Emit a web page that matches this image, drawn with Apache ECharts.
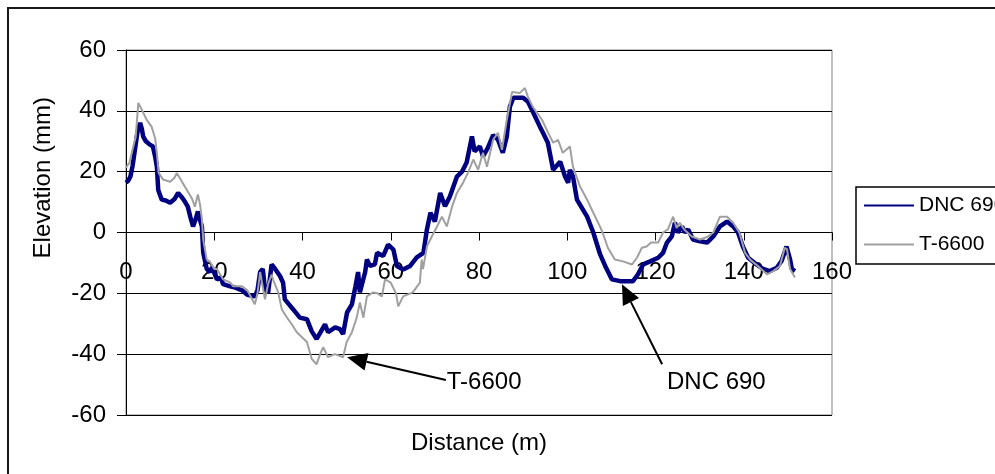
<!DOCTYPE html>
<html>
<head>
<meta charset="utf-8">
<script src="https://cdn.jsdelivr.net/npm/echarts@6/dist/echarts.min.js"></script>
<style>
  html, body { margin: 0; padding: 0; background: #fff; }
  #chart { width: 995px; height: 474px; }
</style>
</head>
<body>
<div id="chart"></div>
<script>
// Surface profile along the test section: distance (m) vs elevation (mm)
const dncDist = [0, 0.5, 1, 1.5, 2, 2.6, 3.2, 3.6, 3.9, 4.5, 5.4, 6.1, 6.6, 7, 7.3, 8.1, 9, 10, 11, 11.8,
  12.7, 13.4, 14, 14.6, 15.2, 15.7, 16.3, 16.8, 17.2, 17.5, 18.3, 19, 19.5, 20.6, 21.5, 22, 23.6, 24.5, 26.3, 27.5,
  29.2, 29.8, 30.4, 31, 31.5, 32.2, 33, 33.8, 34.9, 35.6, 36, 37.9, 39.4, 41, 42.1, 43.2, 44, 45.1, 45.8, 47.4,
  48.5, 49.2, 50.1, 51.2, 52, 52.6, 53, 54.2, 54.6, 55.3, 56.4, 56.9, 58.3, 59.4, 60.6, 61.4, 62.8, 64.4, 65.9, 67.4,
  68.2, 69, 70, 71.2, 72.3, 73.4, 75, 76.2, 77.2, 78.4, 79, 80.2, 80.9, 82, 83.2, 84.3, 85.4, 86.3, 87, 87.8,
  90, 91.1, 92.2, 93.8, 94.5, 95.6, 96.8, 98.4, 99.5, 100.2, 100.6, 101.3, 102.2, 104.5, 105.9, 107.4, 108.6, 110.1, 112, 114.9,
  116, 117.2, 118.8, 120.6, 121.7, 122.6, 123.7, 124.4, 125.1, 126, 126.7, 127.4, 128.5, 130.1, 131.7, 133.1, 134.6, 136.2, 137.6, 138.7,
  139.8, 141, 142.9, 144.4, 145.9, 147.5, 148.6, 149.7, 150.5, 150.9, 151.6];
const dncElev = [16.4, 17, 18.4, 22, 27, 33, 36, 34, 31.5, 30, 28.9, 28.3, 25, 21.6, 14, 10.8, 10.5, 9.8, 11, 13,
  11.5, 10, 8.5, 5, 2, 4, 6.9, 4, 2, -6.6, -12, -13, -11.5, -15.4, -14.8, -17, -17.7, -18, -19, -20.5,
  -21, -19, -13, -12, -18.7, -19.8, -10.5, -12, -14.3, -16.5, -22, -25.3, -28, -28.5, -32.5, -35, -33, -30.2, -32.8, -31.2,
  -31.8, -33.4, -26.3, -23.6, -17.7, -13, -19.7, -13, -8.9, -11, -10.5, -6.7, -7.7, -4, -5.6, -11, -12.2, -11, -8.2, -6.7,
  1, 6.5, 3.6, 13, 8.6, 11.8, 18.4, 20.1, 23, 31.6, 26.7, 28.3, 25, 27.8, 32, 30.5, 26.2, 31.6, 41.4, 44.3,
  44.3, 43, 39.7, 34.8, 32.8, 29.5, 20.6, 23.3, 18.4, 16.4, 20.6, 18.4, 10.8, 5.2, 0, -7, -11, -15.4, -16, -16,
  -13.8, -10.5, -9.5, -8.3, -6.7, -3.3, -1.3, 3.2, 0, 2, 0, 1, -2.3, -2.9, -3.3, -1.3, 2, 3.6, 2, 0,
  -4.6, -8.3, -10.5, -12, -12.7, -11.6, -9.3, -4.6, -8.9, -12, -12.7];

const t6600Dist = [0, 0.8, 1.6, 2.2, 2.8, 3.2, 3.6, 4.7, 5.8, 6.2, 6.6, 7, 7.4, 8.4, 10, 11, 11.5, 12.8, 13.8, 15,
  15.6, 16.3, 16.8, 17.2, 17.5, 18.3, 19, 20, 20.6, 22, 23.6, 24.3, 26.3, 27.5, 29.2, 29.8, 30.4, 31, 31.5, 32.2,
  33, 33.3, 34.5, 35.3, 36.4, 37.5, 38.7, 41, 42.1, 43.2, 44, 44.7, 45.8, 47.3, 48.5, 49.2, 50, 51.2, 52.3, 53,
  53.8, 54.6, 56, 57, 58, 58.7, 60, 61.2, 61.7, 62.8, 65, 66.6, 67, 67.3, 68.2, 69.3, 70.5, 71.6, 72.7, 73.9,
  75, 76.4, 77.5, 78.7, 79.8, 80.9, 81.8, 83.2, 84.3, 85.2, 86.3, 87.5, 89.3, 90.4, 91.1, 92.2, 94.3, 95.6, 96.8, 97.9,
  99, 100.6, 101.3, 102.9, 104.5, 105.9, 107.4, 108, 109.2, 110.8, 112.6, 114.7, 115.8, 116.9, 118, 119, 120.6, 121.7, 122.8, 124,
  124.8, 125.5, 126.5, 128.2, 130.1, 131.7, 133.1, 134.6, 136.2, 137.6, 139, 140.3, 141.5, 143.2, 145.3, 146.7, 148.2, 149.3, 149.8, 150.5,
  151.6];
const t6600Elev = [21.3, 23, 28, 31.5, 42.6, 43, 40.3, 37, 34.8, 35.4, 31, 26, 19.6, 17.4, 16.7, 18, 19.6, 16.4, 14, 11,
  8.5, 12.5, 9, 4.3, -2.3, -8.9, -9.5, -12, -12, -15.4, -16.4, -17.7, -17.7, -19, -23.6, -20, -13, -18, -22, -17,
  -13.8, -15.4, -19.7, -25.2, -27.8, -30, -32.8, -36, -41.6, -43.3, -40, -37.7, -41, -40, -40.6, -41, -36, -32.8, -27.9, -23,
  -28, -21, -19.7, -20, -21, -15.4, -16.5, -20, -24.3, -21, -19.7, -16.5, -8.9, -12, -4.6, -1.3, 2, 5.2, 2, 8.5,
  13, 16.4, 19.6, 24, 20.6, 26.2, 21.6, 30.5, 32.8, 27.2, 37, 46.2, 45.9, 47.5, 44.6, 41.3, 37, 33, 29.5, 30.5,
  26.2, 28.3, 21.6, 15.1, 10.8, 6.5, 2, 0, -5, -8.9, -9.5, -10.5, -8.3, -5, -4.6, -3.3, -3.3, 0, 1, 5.2,
  1.5, 3.2, 1, -1.3, -2.3, -1.5, 0, 5.2, 5.2, 3.2, 0, -6.7, -9, -11, -13.8, -12.7, -11, -5, -5.5, -12,
  -14.8];

// Axis ranges and ticks
const xTicks = [0, 20, 40, 60, 80, 100, 120, 140, 160];
const yTicks = [-60, -40, -20, 0, 20, 40, 60];
const xCrossesAt = 0;   // the distance axis is drawn across the plot at this elevation
const xTitle = 'Distance (m)';
const yTitle = 'Elevation (mm)';

// Callouts (data coordinates): arrow tip, arrow tail, label anchor
const calloutText = ['T-6600', 'DNC 690'];
const calloutTip = [[50.1, -41.0], [112.4, -17.0]];
const calloutTail = [[72.5, -48.5], [121.5, -43.3]];
const calloutLabelAt = [[72.7, -49.2], [122.6, -49.2]];

const FONT = '"Liberation Sans", Arial, Helvetica, sans-serif';

const chart = echarts.init(document.getElementById('chart'), null, { renderer: 'canvas' });

const option = {
  animation: false,
  backgroundColor: '#fff',
  textStyle: { fontFamily: FONT, color: '#000' },
  grid: {
    left: 126, top: 50, right: 163, bottom: 59,
    show: true, borderColor: '#808080', borderWidth: 1, backgroundColor: '#fff'
  },
  legend: {
    orient: 'vertical',
    left: 856, top: 187,
    padding: [8, 12, 9, 7],
    itemGap: 18,
    itemWidth: 50, itemHeight: 20,
    borderColor: '#000', borderWidth: 1.5,
    backgroundColor: '#fff',
    itemStyle: { opacity: 0 },
    textStyle: { fontSize: 21, fontFamily: FONT, color: '#000', padding: [0, 0, 0, 0] },
    data: ['DNC 690', 'T-6600']
  },
  xAxis: {
    type: 'value',
    position: 'bottom',
    offset: 0,
    min: xTicks[0], max: xTicks[xTicks.length - 1], interval: xTicks[1] - xTicks[0],
    axisLine: { onZero: false, lineStyle: { color: '#000', width: 1 } },
    axisTick: { show: true, inside: false, length: 8, lineStyle: { color: '#000' } },
    axisLabel: { margin: 28, fontSize: 24, fontFamily: FONT, color: '#000' },
    splitLine: { show: false }
  },
  yAxis: {
    type: 'value',
    min: yTicks[0], max: yTicks[yTicks.length - 1], interval: yTicks[1] - yTicks[0],
    axisLine: { show: true, onZero: false, lineStyle: { color: '#000', width: 1 } },
    axisTick: { show: true, inside: false, length: 9, lineStyle: { color: '#000' } },
    axisLabel: { margin: 20, fontSize: 24, fontFamily: FONT, color: '#000' },
    splitLine: { show: true, lineStyle: { color: '#000', width: 1 } }
  },
  series: [
    {
      name: 'DNC 690',
      type: 'line',
      data: dncDist.map((d, i) => [d, dncElev[i]]),
      symbol: 'none',
      lineStyle: { color: '#000080', width: 4.5 },
      itemStyle: { color: '#000080' },
      z: 3
    },
    {
      name: 'T-6600',
      type: 'line',
      data: t6600Dist.map((d, i) => [d, t6600Elev[i]]),
      symbol: 'none',
      lineStyle: { color: '#a0a0a0', width: 2 },
      itemStyle: { color: '#a0a0a0' },
      z: 4
    }
  ]
};

chart.setOption(option);

// Move the distance axis up so that it crosses the plot at the chosen elevation
const gridRect = chart.getModel().getComponent('grid', 0).coordinateSystem.getRect();
const crossY = chart.convertToPixel({ yAxisIndex: 0 }, xCrossesAt);
chart.setOption({ xAxis: { offset: -(gridRect.y + gridRect.height - crossY) } });

// Frame around the chart area, axis titles, callout arrows with labels
function buildGraphics() {
  const rect = chart.getModel().getComponent('grid', 0).coordinateSystem.getRect();
  const els = [{
    type: 'rect', silent: true, z: 100,
    shape: { x: 8, y: 8, width: 1000, height: 480 },
    style: { fill: null, stroke: '#1a1a1a', lineWidth: 2 }
  }, {
    type: 'text', silent: true, z: 100,
    x: rect.x + rect.width / 2, y: rect.y + rect.height + 28,
    style: { text: xTitle, fill: '#000', fontSize: 24, fontFamily: FONT, align: 'center', verticalAlign: 'middle' }
  }, {
    type: 'text', silent: true, z: 100,
    x: rect.x - 83, y: rect.y + rect.height * 0.35,
    rotation: Math.PI / 2,
    style: { text: yTitle, fill: '#000', fontSize: 24, fontFamily: FONT, align: 'center', verticalAlign: 'middle' }
  }];
  calloutTip.forEach((tip, i) => {
    const a = chart.convertToPixel({ gridIndex: 0 }, calloutTail[i]);
    const b = chart.convertToPixel({ gridIndex: 0 }, tip);
    const dx = b[0] - a[0], dy = b[1] - a[1];
    const len = Math.hypot(dx, dy);
    const ux = dx / len, uy = dy / len;
    const headLen = 20, headHalf = 9;
    const bx = b[0] - ux * headLen, by = b[1] - uy * headLen;
    els.push({
      type: 'line', silent: true, z: 100,
      shape: { x1: a[0], y1: a[1], x2: bx, y2: by },
      style: { stroke: '#000', lineWidth: 2 }
    });
    els.push({
      type: 'polygon', silent: true, z: 100,
      shape: { points: [[b[0], b[1]], [bx - uy * headHalf, by + ux * headHalf], [bx + uy * headHalf, by - ux * headHalf]] },
      style: { fill: '#000' }
    });
    const t = chart.convertToPixel({ gridIndex: 0 }, calloutLabelAt[i]);
    els.push({
      type: 'text', silent: true, z: 100,
      x: t[0], y: t[1],
      style: { text: calloutText[i], fill: '#000', fontSize: 24, fontFamily: FONT, align: 'left', verticalAlign: 'middle' }
    });
  });
  return els;
}

chart.setOption({ graphic: buildGraphics() });
</script>
</body>
</html>
